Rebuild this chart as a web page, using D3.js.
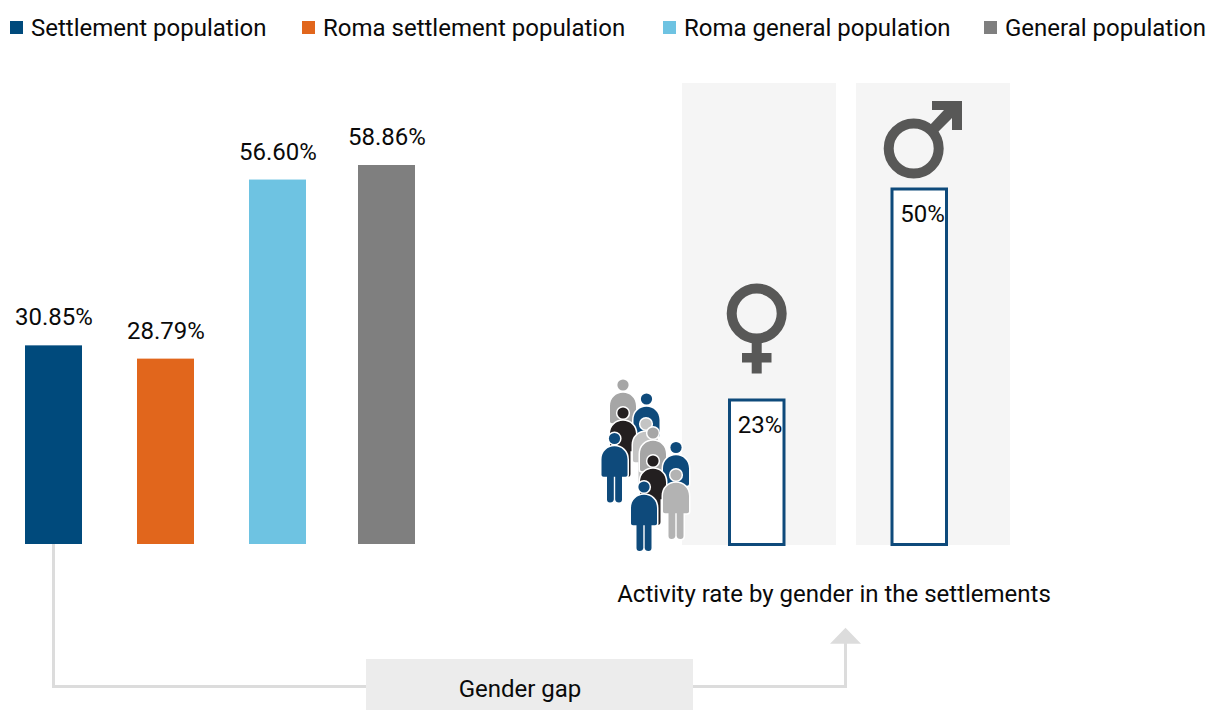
<!DOCTYPE html>
<html><head><meta charset="utf-8">
<script src="https://cdn.jsdelivr.net/npm/d3@7"></script>
<style>html,body{margin:0;padding:0;background:#fff}svg{display:block}text{font-family:Roboto,sans-serif;fill:#0a0a0a}</style>
</head><body><div id="c"></div>
<script>
const categories=["Settlement population","Roma settlement population","Roma general population","General population"];
const values=[30.85,28.79,56.60,58.86];
const colors=["#004a7c","#e1661c","#6ec3e2","#7f7f7f"];
const legendX=[10,302,663,984];
const genders=["female","male"];
const genderValues=[23,50];
const peopleTint=["#a6a6a6","#0e4a7b","#231f20","#0e4a7b","#c4c4c4","#a6a6a6","#0e4a7b","#231f20","#b3b3b3","#0e4a7b"];

const W=1208,H=710,FS=24;
const svg=d3.select("#c").append("svg").attr("width",W).attr("height",H);

// legend
const lg=svg.append("g").selectAll("g").data(categories).join("g").attr("transform",(d,i)=>`translate(${legendX[i]},21)`);
lg.append("rect").attr("width",13).attr("height",13).attr("fill",(d,i)=>colors[i]);
lg.append("text").attr("x",21).attr("y",14.5).attr("font-size",FS).text(d=>d);

// main bars
const xs=d3.scaleOrdinal().domain(categories).range([25,137,249,358]);
const y=d3.scaleLinear().domain([0,58.86]).range([544,165]);
svg.append("g").selectAll("rect").data(values).join("rect")
  .attr("x",(d,i)=>xs(categories[i])).attr("width",57)
  .attr("y",d=>y(d)).attr("height",d=>544-y(d)).attr("fill",(d,i)=>colors[i]);
svg.append("g").selectAll("text").data(values).join("text")
  .attr("x",(d,i)=>xs(categories[i])+29).attr("y",d=>y(d)-20).attr("text-anchor","middle")
  .attr("font-size",FS).text(d=>d.toFixed(2)+"%");

// gender panels
const panelX=d3.scaleOrdinal().domain(genders).range([682,856]);
const gBarX=d3.scaleOrdinal().domain(genders).range([729.5,892]);
const gy=d3.scaleLinear().domain([23,50]).range([400,189]);
svg.append("g").selectAll("rect").data(genders).join("rect")
  .attr("x",d=>panelX(d)).attr("y",83).attr("width",154).attr("height",462).attr("fill","#f5f5f5");
svg.append("g").selectAll("rect").data(genderValues).join("rect")
  .attr("x",(d,i)=>gBarX(genders[i])).attr("width",54.5)
  .attr("y",d=>gy(d)).attr("height",d=>544.5-gy(d))
  .attr("fill","#fff").attr("stroke","#0e4a7b").attr("stroke-width",3);
svg.append("g").selectAll("text").data(genderValues).join("text")
  .attr("x",(d,i)=>gBarX(genders[i])+30.5).attr("y",d=>gy(d)+32.5).attr("text-anchor","middle")
  .attr("font-size",FS).text(d=>d+"%");

// gender symbols
const sym="#585857";
const f=svg.append("g");
f.append("circle").attr("cx",756.7).attr("cy",313.5).attr("r",25).attr("fill","none").attr("stroke",sym).attr("stroke-width",10);
f.append("rect").attr("x",751.7).attr("y",342).attr("width",10).attr("height",31.5).attr("fill",sym);
f.append("rect").attr("x",742).attr("y",353).attr("width",29.5).attr("height",9.5).attr("fill",sym);
const m=svg.append("g");
m.append("circle").attr("cx",913.7).attr("cy",148.5).attr("r",25).attr("fill","none").attr("stroke",sym).attr("stroke-width",10);
m.append("path").attr("d","M932,101H962V130H952V118L937,133L930,125L944,110H932Z").attr("fill",sym);

// people
const peopleHeads=[[623,385],[646.5,399],[623,413],[614.5,438.5],[646,424],[653,433],[676,447.5],[653,461],[676,475],[644,487]];
const body="M-13,21C-13,13 -7,7.7 0,7.7C7,7.7 13,13 13,21V36.5Q13,38.3 11,38.3H7.5V61Q7.5,64 4.5,64Q1,64 0.7,61V38.3H-0.7V61Q-1,64 -4.5,64Q-7.5,64 -7.5,61V38.3H-11Q-13,38.3 -13,36.5Z";
const pg=svg.append("g").selectAll("g").data(peopleHeads).join("g").attr("transform",d=>`translate(${d[0]},${d[1]})`);
pg.append("path").attr("d",body).attr("fill",(d,i)=>peopleTint[i]).attr("stroke","#fff").attr("stroke-width",3).attr("paint-order","stroke");
pg.append("circle").attr("r",5.6).attr("fill",(d,i)=>peopleTint[i]).attr("stroke","#fff").attr("stroke-width",3).attr("paint-order","stroke");

svg.append("text").attr("x",834).attr("y",601.5).attr("text-anchor","middle").attr("font-size",FS).text("Activity rate by gender in the settlements");

// connector
svg.append("path").attr("d",d3.line()([[53.5,544],[53.5,686.5],[845.5,686.5],[845.5,640]])).attr("fill","none").attr("stroke","#dcdcdc").attr("stroke-width",3);
svg.append("path").attr("d",d3.line()([[830,643.7],[845.5,627.7],[861,643.7]])+"Z").attr("fill","#dcdcdc");
svg.append("rect").attr("x",366).attr("y",659).attr("width",327).attr("height",51).attr("fill","#ececec");
svg.append("text").attr("x",520).attr("y",697).attr("text-anchor","middle").attr("font-size",FS).text("Gender gap");
</script></body></html>
